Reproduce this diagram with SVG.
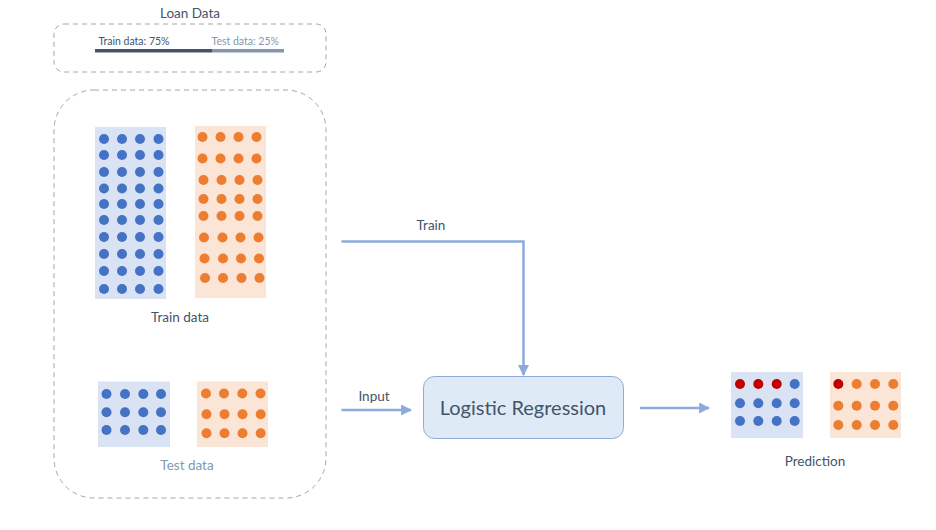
<svg xmlns="http://www.w3.org/2000/svg" width="936" height="530" viewBox="0 0 936 530">
<style>
text{font-family:Lato,"Open Sans","Liberation Sans",sans-serif;fill:#44546a}
.dash{fill:none;stroke:#a6a6a6;stroke-width:1;stroke-dasharray:5 4}
.bbg{fill:#dae3f3}.obg{fill:#fbe5d6}
.b{fill:#4472c4}.o{fill:#ed7d31}.r{fill:#c00000}
.conn{fill:none;stroke:#8eaadb;stroke-width:2.5}
.lbl{font-size:13.5px;text-anchor:middle}
</style>
<defs>
<marker id="ah" viewBox="0 0 10 10" refX="9" refY="5" markerWidth="4.4" markerHeight="4.4" orient="auto" markerUnits="strokeWidth">
<path d="M0,0 L10,5 L0,10 z" fill="#8eaadb"/>
</marker>
</defs>
<rect width="936" height="530" fill="#fff"/>

<g id="loan-data">
<text x="190" y="18" class="lbl">Loan Data</text>
<rect class="dash" x="54" y="24" width="272" height="48" rx="10"/>
<text x="98.5" y="45" style="font-size:10.5px">Train data: 75%</text>
<text x="211.5" y="45" style="font-size:10.5px;fill:#8497b0">Test data: 25%</text>
<rect x="95" y="49" width="117" height="3.5" fill="#44546a"/>
<rect x="212" y="49" width="72" height="3.5" fill="#8497b0"/>
</g>

<g id="dataset-container">
<rect class="dash" x="54" y="90" width="272" height="408" rx="40"/>
</g>

<g id="train-data">
<rect class="bbg" x="95" y="127" width="71" height="172"/>
<g class="b">
<circle cx="104" cy="139" r="5"/><circle cx="122" cy="139" r="5"/><circle cx="140" cy="139" r="5"/><circle cx="158.5" cy="139" r="5"/>
<circle cx="104" cy="155" r="5"/><circle cx="122" cy="155" r="5"/><circle cx="140" cy="155" r="5"/><circle cx="158.5" cy="155" r="5"/>
<circle cx="104" cy="172" r="5"/><circle cx="122" cy="172" r="5"/><circle cx="140" cy="172" r="5"/><circle cx="158.5" cy="172" r="5"/>
<circle cx="104" cy="188.5" r="5"/><circle cx="122" cy="188.5" r="5"/><circle cx="140" cy="188.5" r="5"/><circle cx="158.5" cy="188.5" r="5"/>
<circle cx="104" cy="204" r="5"/><circle cx="122" cy="204" r="5"/><circle cx="140" cy="204" r="5"/><circle cx="158.5" cy="204" r="5"/>
<circle cx="104" cy="220" r="5"/><circle cx="122" cy="220" r="5"/><circle cx="140" cy="220" r="5"/><circle cx="158.5" cy="220" r="5"/>
<circle cx="104" cy="237" r="5"/><circle cx="122" cy="237" r="5"/><circle cx="140" cy="237" r="5"/><circle cx="158.5" cy="237" r="5"/>
<circle cx="104" cy="254" r="5"/><circle cx="122" cy="254" r="5"/><circle cx="140" cy="254" r="5"/><circle cx="158.5" cy="254" r="5"/>
<circle cx="104" cy="271" r="5"/><circle cx="122" cy="271" r="5"/><circle cx="140" cy="271" r="5"/><circle cx="158.5" cy="271" r="5"/>
<circle cx="104" cy="289" r="5"/><circle cx="122" cy="289" r="5"/><circle cx="140" cy="289" r="5"/><circle cx="158.5" cy="289" r="5"/>
</g>
<rect class="obg" x="195" y="126" width="71" height="172"/>
<g class="o">
<circle cx="202.5" cy="137" r="5"/><circle cx="220.5" cy="137" r="5"/><circle cx="238.5" cy="137" r="5"/><circle cx="256.5" cy="137" r="5"/>
<circle cx="202.5" cy="158.5" r="5"/><circle cx="220.5" cy="158.5" r="5"/><circle cx="238.5" cy="158.5" r="5"/><circle cx="256.5" cy="158.5" r="5"/>
<circle cx="203.5" cy="180" r="5"/><circle cx="221.5" cy="180" r="5"/><circle cx="239.5" cy="180" r="5"/><circle cx="257.5" cy="180" r="5"/>
<circle cx="203.5" cy="199" r="5"/><circle cx="221.5" cy="199" r="5"/><circle cx="239.5" cy="199" r="5"/><circle cx="257.5" cy="199" r="5"/>
<circle cx="203.5" cy="216" r="5"/><circle cx="221.5" cy="216" r="5"/><circle cx="239.5" cy="216" r="5"/><circle cx="257.5" cy="216" r="5"/>
<circle cx="204" cy="237.5" r="5"/><circle cx="222.5" cy="237.5" r="5"/><circle cx="240.5" cy="237.5" r="5"/><circle cx="258.5" cy="237.5" r="5"/>
<circle cx="204.5" cy="258.5" r="5"/><circle cx="223" cy="258.5" r="5"/><circle cx="241" cy="258.5" r="5"/><circle cx="259" cy="258.5" r="5"/>
<circle cx="205" cy="278" r="5"/><circle cx="223" cy="278" r="5"/><circle cx="241.5" cy="278" r="5"/><circle cx="259.5" cy="278" r="5"/>
</g>
<text x="180" y="322" class="lbl">Train data</text>
</g>

<g id="test-data">
<rect class="bbg" x="98" y="381.5" width="72" height="65.5"/>
<g class="b">
<circle cx="106.5" cy="394" r="5"/><circle cx="125" cy="394" r="5"/><circle cx="143.3" cy="394" r="5"/><circle cx="161" cy="394" r="5"/>
<circle cx="106.5" cy="412.3" r="5"/><circle cx="125" cy="412.3" r="5"/><circle cx="143.3" cy="412.3" r="5"/><circle cx="161" cy="412.3" r="5"/>
<circle cx="106.5" cy="430" r="5"/><circle cx="125" cy="430" r="5"/><circle cx="143.3" cy="430" r="5"/><circle cx="161" cy="430" r="5"/>
</g>
<rect class="obg" x="197" y="381.5" width="71" height="65.5"/>
<g class="o">
<circle cx="206" cy="393.5" r="5"/><circle cx="224" cy="393.5" r="5"/><circle cx="242.3" cy="393.5" r="5"/><circle cx="260.5" cy="393.5" r="5"/>
<circle cx="206.5" cy="414.3" r="5"/><circle cx="224.5" cy="414.3" r="5"/><circle cx="242.5" cy="414.3" r="5"/><circle cx="260.7" cy="414.3" r="5"/>
<circle cx="206.5" cy="433.3" r="5"/><circle cx="224.5" cy="433.3" r="5"/><circle cx="242.5" cy="433.3" r="5"/><circle cx="260.7" cy="433.3" r="5"/>
</g>
<text x="187" y="470" class="lbl" style="fill:#8497b0">Test data</text>
</g>

<g id="logistic-regression">
<rect x="423.5" y="376.5" width="200" height="62" rx="11" fill="#deebf7" stroke="#8eaadb" stroke-width="1"/>
<text x="523" y="415" style="font-size:20px;text-anchor:middle">Logistic Regression</text>
</g>

<g id="prediction">
<rect class="bbg" x="731" y="372" width="72" height="66"/>
<circle class="r" cx="740" cy="384" r="5"/><circle class="r" cx="758.3" cy="384" r="5"/><circle class="r" cx="776.7" cy="384" r="5"/>
<g class="b">
<circle cx="794.7" cy="384" r="5"/>
<circle cx="740" cy="403.3" r="5"/><circle cx="758.3" cy="403.3" r="5"/><circle cx="776.7" cy="403.3" r="5"/><circle cx="794.7" cy="403.3" r="5"/>
<circle cx="740" cy="421" r="5"/><circle cx="758.3" cy="421" r="5"/><circle cx="776.7" cy="421" r="5"/><circle cx="794.7" cy="421" r="5"/>
</g>
<rect class="obg" x="830" y="372" width="71" height="66"/>
<circle class="r" cx="838.3" cy="384" r="5"/>
<g class="o">
<circle cx="856.7" cy="384" r="5"/><circle cx="875" cy="384" r="5"/><circle cx="893.3" cy="384" r="5"/>
<circle cx="838.3" cy="405.7" r="5"/><circle cx="856.7" cy="405.7" r="5"/><circle cx="875" cy="405.7" r="5"/><circle cx="893.3" cy="405.7" r="5"/>
<circle cx="838.3" cy="425" r="5"/><circle cx="856.7" cy="425" r="5"/><circle cx="875" cy="425" r="5"/><circle cx="893.3" cy="425" r="5"/>
</g>
<text x="815" y="466" class="lbl">Prediction</text>
</g>

<g id="connectors">
<path class="conn" d="M341.5,241.5 H523.5 V375" marker-end="url(#ah)"/>
<text x="431" y="230" class="lbl">Train</text>
<path class="conn" d="M341.5,410 H411" marker-end="url(#ah)"/>
<text x="374" y="401" class="lbl">Input</text>
<path class="conn" d="M640,408 H709" marker-end="url(#ah)"/>
</g>
</svg>
